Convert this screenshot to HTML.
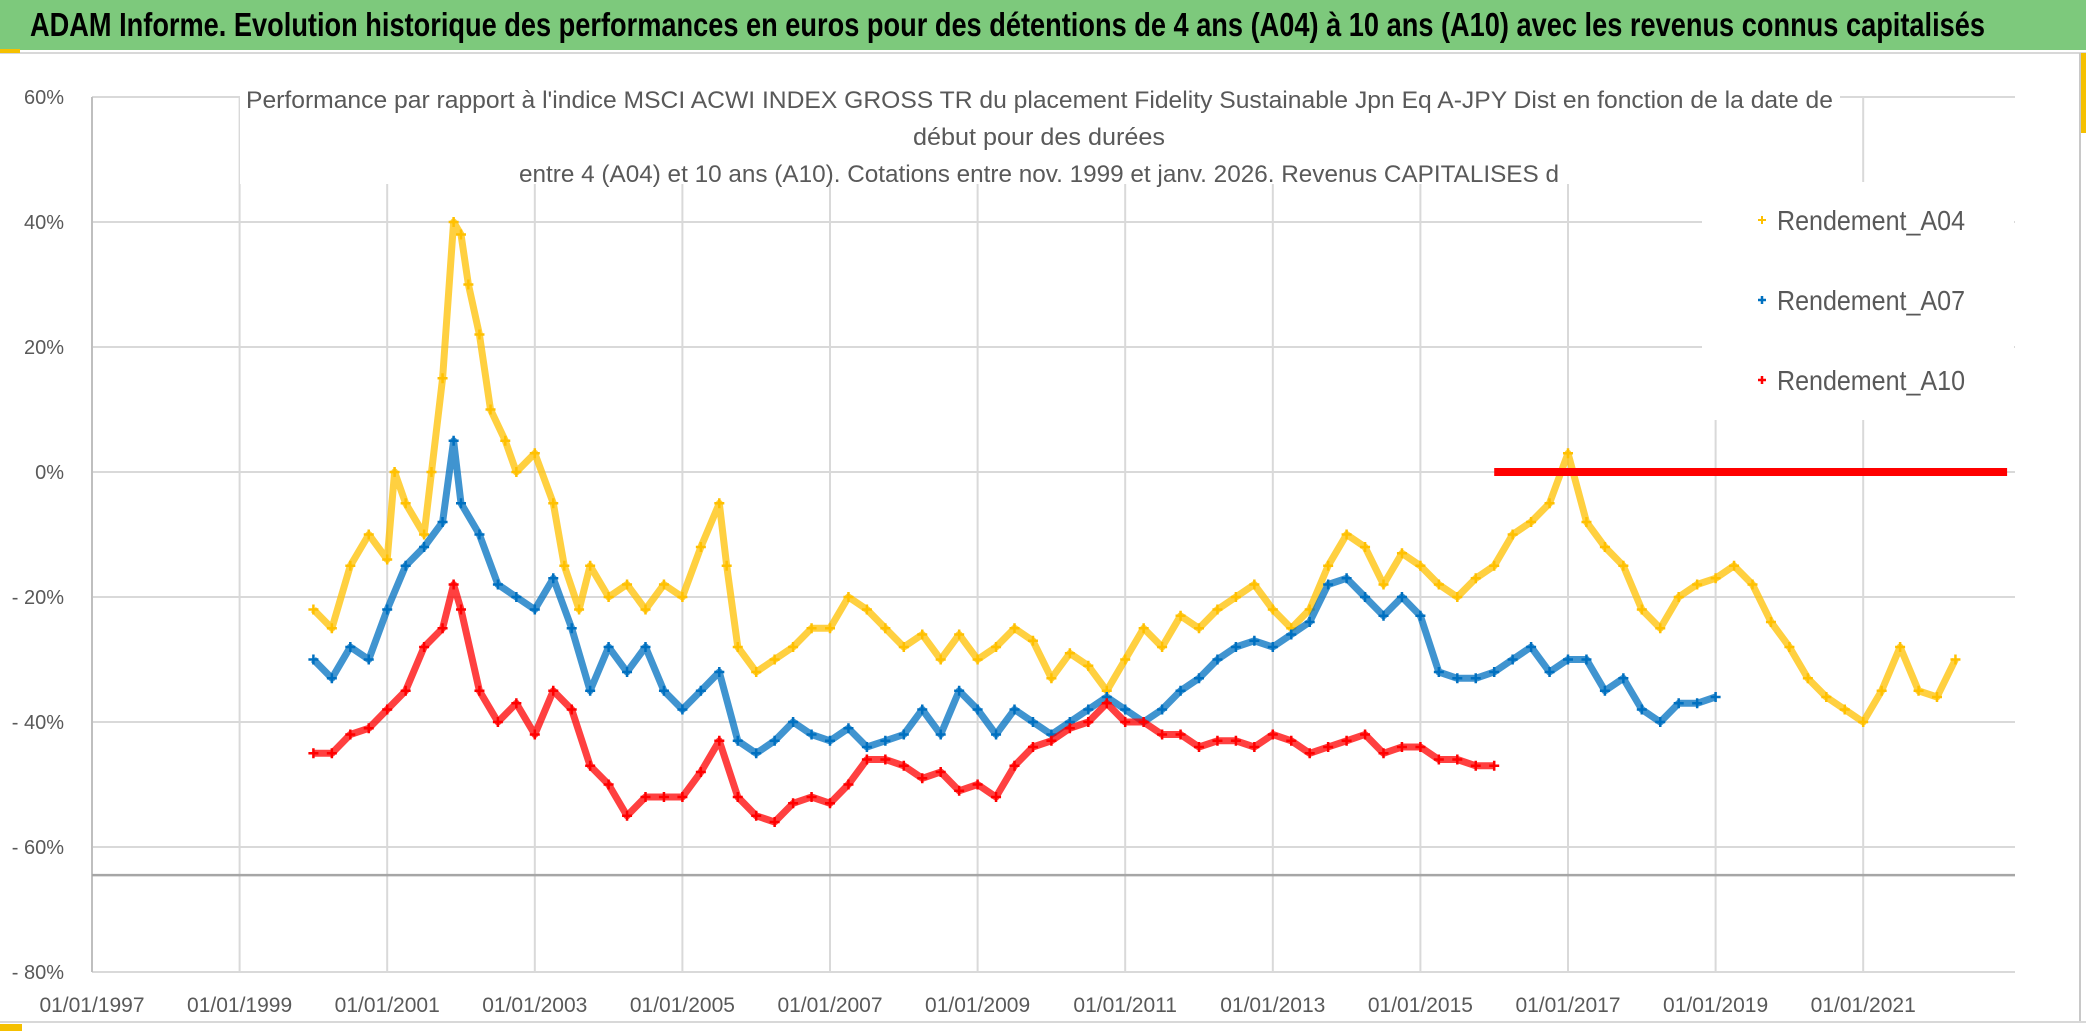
<!DOCTYPE html>
<html><head><meta charset="utf-8">
<style>
html,body{margin:0;padding:0;background:#fff;}
svg{display:block;font-family:"Liberation Sans Narrow","Liberation Sans",sans-serif;}
</style></head>
<body>
<svg id="chart" width="2086" height="1031" viewBox="0 0 2086 1031" xmlns="http://www.w3.org/2000/svg">
<rect x="0" y="0" width="2086" height="1031" fill="#fff"/>
<rect x="0" y="0" width="2086" height="50" fill="#7dc97c"/>
<line x1="0" y1="53" x2="2086" y2="53" stroke="#d8d8d8" stroke-width="2"/>
<rect x="0" y="49" width="20" height="4" fill="#f5c000"/>
<text x="30" y="36" font-size="33" font-weight="bold" fill="#000" textLength="1955" lengthAdjust="spacingAndGlyphs">ADAM Informe. Evolution historique des performances en euros pour des détentions de 4 ans (A04) à 10 ans (A10) avec les revenus connus capitalisés</text>
<rect x="2079" y="53" width="2" height="968" fill="#c8c8c8"/>
<rect x="2081" y="53" width="5" height="80" fill="#f5c000"/>
<line x1="0" y1="1022" x2="2086" y2="1022" stroke="#d8d8d8" stroke-width="2"/>
<rect x="0" y="1024" width="22" height="7" fill="#f5c000"/>
<g id="grid"></g>
<g id="axes"></g>
<g id="series"></g>
<rect x="240" y="80" width="1600" height="104" fill="#fff"/>
<text x="246" y="108" font-size="24" fill="#595959" textLength="1587" lengthAdjust="spacingAndGlyphs">Performance par rapport à l'indice MSCI ACWI INDEX GROSS TR  du placement Fidelity Sustainable Jpn Eq A-JPY Dist en fonction de la date de</text>
<text x="913" y="145" font-size="24" fill="#595959" textLength="252" lengthAdjust="spacingAndGlyphs">début pour des durées</text>
<text x="519" y="182" font-size="24" fill="#595959" textLength="1040" lengthAdjust="spacingAndGlyphs">entre 4 (A04) et 10 ans (A10). Cotations entre nov. 1999 et janv. 2026. Revenus CAPITALISES d</text>
<g>
<rect x="1702" y="182" width="312" height="238" fill="#fff"/>
<g><path d="M1758 220h8M1762 216v8" stroke="#FFC000" stroke-width="2"/><text x="1777" y="230" font-size="28" fill="#595959" textLength="188" lengthAdjust="spacingAndGlyphs">Rendement_A04</text></g>
<g><path d="M1758 300h8M1762 296v8" stroke="#0070C0" stroke-width="2.5"/><text x="1777" y="310" font-size="28" fill="#595959" textLength="188" lengthAdjust="spacingAndGlyphs">Rendement_A07</text></g>
<g><path d="M1758 380h8M1762 376v8" stroke="#FF0000" stroke-width="2.5"/><text x="1777" y="390" font-size="28" fill="#595959" textLength="188" lengthAdjust="spacingAndGlyphs">Rendement_A10</text></g>
</g>
</svg>
<script>
const yTicks = [60, 40, 20, 0, -20, -40, -60, -80];
const yTickLabels = ["60%", "40%", "20%", "0%", "- 20%", "- 40%", "- 60%", "- 80%"];
const xTicks = [1997, 1999, 2001, 2003, 2005, 2007, 2009, 2011, 2013, 2015, 2017, 2019, 2021];
const xTickLabels = ["01/01/1997","01/01/1999","01/01/2001","01/01/2003","01/01/2005","01/01/2007","01/01/2009","01/01/2011","01/01/2013","01/01/2015","01/01/2017","01/01/2019","01/01/2021"];
const refLineValue = -64.5;

const datesA04 = [2000.0,2000.25,2000.5,2000.75,2001.0,2001.1,2001.25,2001.5,2001.6,2001.75,2001.9,2002.0,2002.1,2002.25,2002.4,2002.6,2002.75,2003.0,2003.25,2003.4,2003.6,2003.75,2004.0,2004.25,2004.5,2004.75,2005.0,2005.25,2005.5,2005.6,2005.75,2006.0,2006.25,2006.5,2006.75,2007.0,2007.25,2007.5,2007.75,2008.0,2008.25,2008.5,2008.75,2009.0,2009.25,2009.5,2009.75,2010.0,2010.25,2010.5,2010.75,2011.0,2011.25,2011.5,2011.75,2012.0,2012.25,2012.5,2012.75,2013.0,2013.25,2013.5,2013.75,2014.0,2014.25,2014.5,2014.75,2015.0,2015.25,2015.5,2015.75,2016.0,2016.25,2016.5,2016.75,2017.0,2017.25,2017.5,2017.75,2018.0,2018.25,2018.5,2018.75,2019.0,2019.25,2019.5,2019.75,2020.0,2020.25,2020.5,2020.75,2021.0,2021.25,2021.5,2021.75,2022.0,2022.25];
const valuesA04 = [-22,-25,-15,-10,-14,0,-5,-10,0,15,40,38,30,22,10,5,0,3,-5,-15,-22,-15,-20,-18,-22,-18,-20,-12,-5,-15,-28,-32,-30,-28,-25,-25,-20,-22,-25,-28,-26,-30,-26,-30,-28,-25,-27,-33,-29,-31,-35,-30,-25,-28,-23,-25,-22,-20,-18,-22,-25,-22,-15,-10,-12,-18,-13,-15,-18,-20,-17,-15,-10,-8,-5,3,-8,-12,-15,-22,-25,-20,-18,-17,-15,-18,-24,-28,-33,-36,-38,-40,-35,-28,-35,-36,-30];

const datesA07 = [2000.0,2000.25,2000.5,2000.75,2001.0,2001.25,2001.5,2001.75,2001.9,2002.0,2002.25,2002.5,2002.75,2003.0,2003.25,2003.5,2003.75,2004.0,2004.25,2004.5,2004.75,2005.0,2005.25,2005.5,2005.75,2006.0,2006.25,2006.5,2006.75,2007.0,2007.25,2007.5,2007.75,2008.0,2008.25,2008.5,2008.75,2009.0,2009.25,2009.5,2009.75,2010.0,2010.25,2010.5,2010.75,2011.0,2011.25,2011.5,2011.75,2012.0,2012.25,2012.5,2012.75,2013.0,2013.25,2013.5,2013.75,2014.0,2014.25,2014.5,2014.75,2015.0,2015.25,2015.5,2015.75,2016.0,2016.25,2016.5,2016.75,2017.0,2017.25,2017.5,2017.75,2018.0,2018.25,2018.5,2018.75,2019.0];
const valuesA07 = [-30,-33,-28,-30,-22,-15,-12,-8,5,-5,-10,-18,-20,-22,-17,-25,-35,-28,-32,-28,-35,-38,-35,-32,-43,-45,-43,-40,-42,-43,-41,-44,-43,-42,-38,-42,-35,-38,-42,-38,-40,-42,-40,-38,-36,-38,-40,-38,-35,-33,-30,-28,-27,-28,-26,-24,-18,-17,-20,-23,-20,-23,-32,-33,-33,-32,-30,-28,-32,-30,-30,-35,-33,-38,-40,-37,-37,-36];

const datesA10 = [2000.0,2000.25,2000.5,2000.75,2001.0,2001.25,2001.5,2001.75,2001.9,2002.0,2002.25,2002.5,2002.75,2003.0,2003.25,2003.5,2003.75,2004.0,2004.25,2004.5,2004.75,2005.0,2005.25,2005.5,2005.75,2006.0,2006.25,2006.5,2006.75,2007.0,2007.25,2007.5,2007.75,2008.0,2008.25,2008.5,2008.75,2009.0,2009.25,2009.5,2009.75,2010.0,2010.25,2010.5,2010.75,2011.0,2011.25,2011.5,2011.75,2012.0,2012.25,2012.5,2012.75,2013.0,2013.25,2013.5,2013.75,2014.0,2014.25,2014.5,2014.75,2015.0,2015.25,2015.5,2015.75,2016.0];
const valuesA10 = [-45,-45,-42,-41,-38,-35,-28,-25,-18,-22,-35,-40,-37,-42,-35,-38,-47,-50,-55,-52,-52,-52,-48,-43,-52,-55,-56,-53,-52,-53,-50,-46,-46,-47,-49,-48,-51,-50,-52,-47,-44,-43,-41,-40,-37,-40,-40,-42,-42,-44,-43,-43,-44,-42,-43,-45,-44,-43,-42,-45,-44,-44,-46,-46,-47,-47];

const flatDates = [2016.0,2016.5,2017.0,2017.5,2018.0,2018.5,2019.0,2019.5,2020.0,2020.5,2021.0,2021.5,2022.0,2022.5,2022.95];
const flatValues = [0,0,0,0,0,0,0,0,0,0,0,0,0,0,0];

const NS = "http://www.w3.org/2000/svg";
const X0 = 92, PXPERYEAR = 73.8, Y0 = 472, PXPERPCT = 6.25, XR = 2015, YTOP = 97, YBOT = 972;
function xs(t){ return X0 + (t - 1997) * PXPERYEAR; }
function ys(v){ return Y0 - v * PXPERPCT; }
function mk(tag, attrs, parent){ const e = document.createElementNS(NS, tag); for (const k in attrs) e.setAttribute(k, attrs[k]); parent.appendChild(e); return e; }

const grid = document.getElementById('grid');
const axes = document.getElementById('axes');
yTicks.forEach((v, i) => {
  const l = mk('line', {x1: X0, x2: XR, y1: ys(v), y2: ys(v), stroke: '#d9d9d9', 'stroke-width': 2}, grid);
  
  
  const t = mk('text', {x: 64, y: ys(v) + 7, 'text-anchor': 'end', 'font-size': 20, fill: '#595959'}, axes);
  t.textContent = yTickLabels[i];
  
  
});
xTicks.forEach((yr, i) => {
  const l = mk('line', {x1: xs(yr), x2: xs(yr), y1: YTOP, y2: YBOT, stroke: i === 0 ? '#bfbfbf' : '#d9d9d9', 'stroke-width': 2}, grid);
  
  
  const t = mk('text', {x: xs(yr), y: 1012, 'text-anchor': 'middle', 'font-size': 21, fill: '#595959'}, axes);
  t.textContent = xTickLabels[i];
  
  
});
const ref = mk('line', {x1: X0, x2: XR, y1: ys(refLineValue), y2: ys(refLineValue), stroke: '#a6a6a6', 'stroke-width': 2.5}, grid);



const series = document.getElementById('series');
function drawSeries(dates, vals, color, name){
  const g = mk('g', {}, series);
  
  
  const pts = dates.map((d, i) => xs(d).toFixed(1) + ',' + ys(vals[i]).toFixed(1)).join(' ');
  const pl = mk('polyline', {points: pts, fill: 'none', stroke: color, 'stroke-width': 7, 'stroke-linejoin': 'round', opacity: 0.75}, g);
  
  
  dates.forEach((d, i) => {
    const x = xs(d), y = ys(vals[i]);
    const p = mk('path', {d: `M${x-5} ${y}h10M${x} ${y-5}v10`, stroke: color, 'stroke-width': 2.5}, g);
    
    
  });
}
drawSeries(datesA04, valuesA04, '#FFC000', 'series-a04');
drawSeries(datesA07, valuesA07, '#0070C0', 'series-a07');
drawSeries(datesA10, valuesA10, '#FF0000', 'series-a10');
const fg = mk('g', {}, series);


const fpts = flatDates.map((d, i) => xs(d).toFixed(1) + ',' + ys(flatValues[i]).toFixed(1)).join(' ');
const fl = mk('polyline', {points: fpts, fill: 'none', stroke: '#FF0000', 'stroke-width': 8}, fg);


</script>
</body></html>
